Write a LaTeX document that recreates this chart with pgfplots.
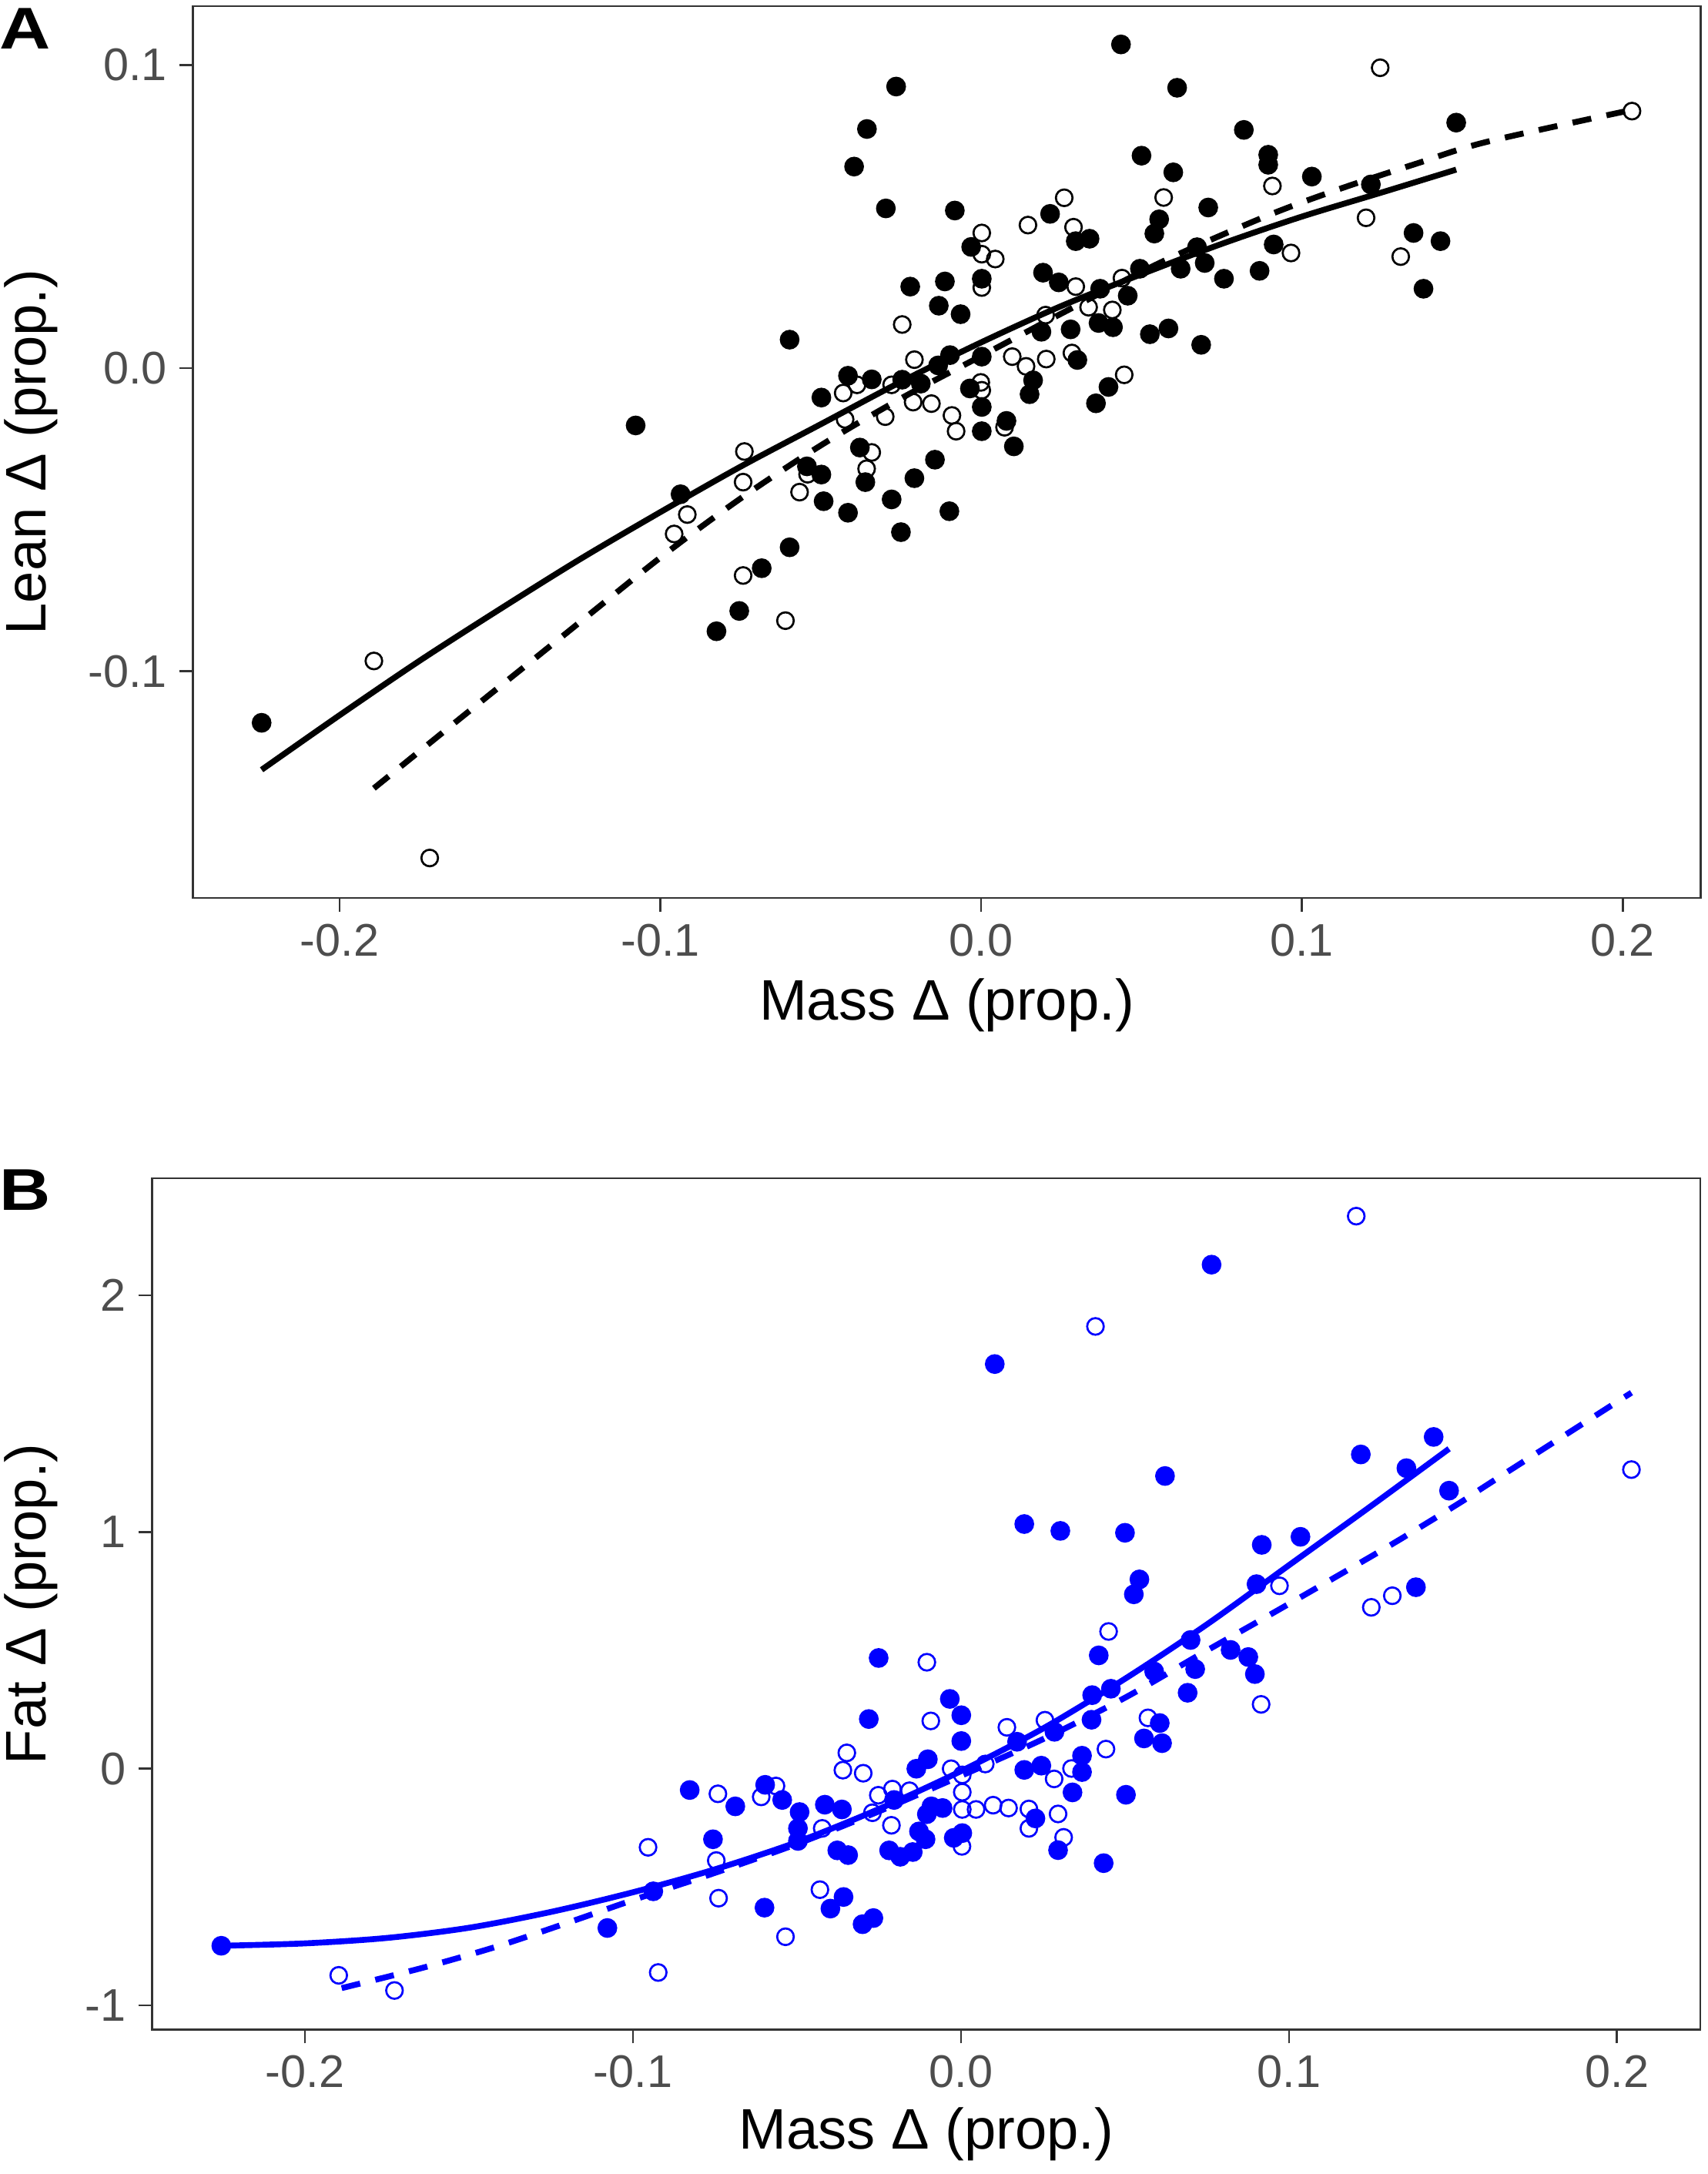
\documentclass[border=0pt]{standalone}
\usepackage{fontspec}
\setmainfont{Liberation Sans}
\usepackage{pgfplots}
\pgfplotsset{compat=1.18}
\definecolor{tickgray}{HTML}{4D4D4D}
\definecolor{framegray}{HTML}{333333}
\definecolor{myblue}{RGB}{0,0,255}

\pgfplotsset{
  ggstyle/.style={
    scale only axis,
    axis line style={framegray, line width=0.6pt},
    tick style={framegray, line width=0.6pt},
    tick align=outside,
    major tick length=4pt,
    tick pos=left,
    ticklabel style={font=\fontsize{13.2}{15}\selectfont, text=tickgray},
    /pgf/number format/assume math mode=true,
    label style={font=\fontsize{16.5}{19}\selectfont},
    clip=false,
  },
  filledpt/.style={only marks, mark=*, mark size=2.65pt, mark options={draw=none}},
  openpt/.style={only marks, mark=o, mark size=2.4pt, mark options={line width=0.6pt}},
}

\begin{document}
\begin{tikzpicture}
\useasboundingbox (0,0) rectangle (492.8pt,627.5pt);

% ---------------- Panel A ----------------
\begin{axis}[ggstyle,
  at={(55.7pt,368.3pt)}, anchor=south west,
  width=435.2pt, height=257.4pt,
  xmin=-0.2457, xmax=0.2243, ymin=-0.1748, ymax=0.1194,
  xtick={-0.2,-0.1,0,0.1,0.2}, xticklabels={-0.2,-0.1,0.0,0.1,0.2},
  ytick={-0.1,0,0.1}, yticklabels={-0.1,0.0,0.1},
  xlabel={Mass Δ (prop.)}, ylabel={Lean Δ (prop.)},
  xlabel style={at={(axis description cs:0.5,-0.12)}, anchor=center},
  ylabel style={at={(axis description cs:-0.1075,0.5)}, anchor=center, rotate=0},
]
\addplot[filledpt, black] coordinates {
(-0.2243,-0.1170) (-0.1077,-0.0189) (-0.0937,-0.0416) (-0.0825,-0.0868)
(-0.0754,-0.0801) (-0.0684,-0.0660) (-0.0597,-0.0591) (-0.0597,0.0094)
(-0.0543,-0.0324) (-0.0498,-0.0351) (-0.0491,-0.0439) (-0.0498,-0.0097)
(-0.0415,-0.0025) (-0.0415,-0.0477) (-0.0396,0.0665) (-0.0378,-0.0262)
(-0.0361,-0.0376) (-0.0356,0.0789) (-0.0341,-0.0037) (-0.0297,0.0527)
(-0.0279,-0.0433) (-0.0265,0.0929) (-0.0250,-0.0541) (-0.0246,-0.0038)
(-0.0221,0.0269) (-0.0208,-0.0363) (-0.0188,-0.0051) (-0.0144,-0.0302)
(-0.0134,0.0009) (-0.0132,0.0206) (-0.0113,0.0286) (-0.0099,-0.0472)
(-0.0097,0.0043) (-0.0082,0.0520) (-0.0064,0.0178) (-0.0035,-0.0067)
(-0.0031,0.0400) (0.0002,0.0295) (0.0002,0.0038) (0.0002,-0.0128)
(0.0002,-0.0208) (0.0079,-0.0174) (0.0102,-0.0258) (0.0151,-0.0086)
(0.0162,-0.0040) (0.0188,0.0120) (0.0193,0.0315) (0.0215,0.0509)
(0.0242,0.0283) (0.0279,0.0128) (0.0295,0.0419) (0.0300,0.0027)
(0.0338,0.0427) (0.0358,-0.0116) (0.0366,0.0149) (0.0371,0.0262)
(0.0397,-0.0062) (0.0411,0.0135) (0.0436,0.1068) (0.0457,0.0239)
(0.0495,0.0328) (0.0500,0.0701) (0.0526,0.0112) (0.0540,0.0444)
(0.0555,0.0491) (0.0584,0.0131) (0.0599,0.0646) (0.0611,0.0925)
(0.0622,0.0328) (0.0673,0.0399) (0.0686,0.0077) (0.0697,0.0347)
(0.0708,0.0530) (0.0757,0.0295) (0.0819,0.0786) (0.0868,0.0321)
(0.0895,0.0704) (0.0895,0.0671) (0.0912,0.0408) (0.1031,0.0632)
(0.1215,0.0606) (0.1348,0.0446) (0.1379,0.0262) (0.1432,0.0419)
(0.1481,0.0810)
};
\addplot[openpt, black] coordinates {
(-0.1893,-0.0966) (-0.1719,-0.1616) (-0.0957,-0.0547) (-0.0916,-0.0483)
(-0.0742,-0.0376) (-0.0738,-0.0275) (-0.0742,-0.0684) (-0.0610,-0.0833)
(-0.0566,-0.0409) (-0.0541,-0.0350) (-0.0430,-0.0082) (-0.0424,-0.0169)
(-0.0387,-0.0055) (-0.0357,-0.0332) (-0.0341,-0.0278) (-0.0299,-0.0160)
(-0.0279,-0.0055) (-0.0246,0.0144) (-0.0212,-0.0112) (-0.0208,0.0028)
(-0.0155,-0.0117) (-0.0091,-0.0156) (-0.0078,-0.0208) (0.0002,0.0446)
(0.0002,0.0376) (0.0002,0.0266) (-0.0001,-0.0047) (0.0002,-0.0073)
(0.0044,0.0360) (0.0073,-0.0195) (0.0097,0.0038) (0.0140,0.0006)
(0.0146,0.0472) (0.0201,0.0175) (0.0203,0.0030) (0.0259,0.0562)
(0.0283,0.0050) (0.0288,0.0465) (0.0295,0.0269) (0.0335,0.0201)
(0.0409,0.0192) (0.0439,0.0297) (0.0446,-0.0022) (0.0569,0.0563)
(0.0908,0.0601) (0.0966,0.0380) (0.1200,0.0496) (0.1244,0.0991)
(0.1308,0.0368) (0.2029,0.0848)
};
\addplot[black, line width=1.7pt, smooth, tension=0.5] coordinates {
(-0.2243,-0.1325) (-0.2000,-0.1145) (-0.1750,-0.0965) (-0.1500,-0.0795)
(-0.1250,-0.0630) (-0.1000,-0.0475) (-0.0750,-0.0325) (-0.0500,-0.0185)
(-0.0250,-0.0045) (0.0000,0.0085) (0.0250,0.0205) (0.0500,0.0310)
(0.0750,0.0410) (0.1000,0.0500) (0.1250,0.0580) (0.1481,0.0655)
};
\addplot[black, line width=1.7pt, dash pattern=on 5.5pt off 4.5pt, smooth, tension=0.5] coordinates {
(-0.1893,-0.1386) (-0.1600,-0.1135) (-0.1300,-0.0880) (-0.1000,-0.0625)
(-0.0750,-0.0430) (-0.0500,-0.0255) (-0.0250,-0.0100) (0.0000,0.0040)
(0.0250,0.0180) (0.0562,0.0350) (0.0890,0.0502) (0.1117,0.0591)
(0.1352,0.0673) (0.1574,0.0746) (0.2029,0.0852)
};
\end{axis}

% ---------------- Panel B ----------------
\begin{axis}[ggstyle,
  at={(43.9pt,41.7pt)}, anchor=south west,
  width=446.9pt, height=245.7pt,
  xmin=-0.2466, xmax=0.2254, ymin=-1.102, ymax=2.495,
  xtick={-0.2,-0.1,0,0.1,0.2}, xticklabels={-0.2,-0.1,0.0,0.1,0.2},
  ytick={-1,0,1,2}, yticklabels={-1,0,1,2},
  xlabel={Mass Δ (prop.)}, ylabel={Fat Δ (prop.)},
  xlabel style={at={(axis description cs:0.5,-0.123)}, anchor=center},
  ylabel style={at={(axis description cs:-0.0783,0.5)}, anchor=center, rotate=0},
]
\addplot[filledpt, myblue] coordinates {
(-0.2255,-0.748) (-0.1078,-0.673) (-0.0938,-0.518) (-0.0827,-0.090)
(-0.0756,-0.298) (-0.0688,-0.159) (-0.0599,-0.587) (-0.0597,-0.068)
(-0.0545,-0.132) (-0.0497,-0.252) (-0.0497,-0.305) (-0.0492,-0.183)
(-0.0415,-0.152) (-0.0398,-0.591) (-0.0377,-0.345) (-0.0363,-0.172)
(-0.0358,-0.542) (-0.0344,-0.365) (-0.0300,-0.657) (-0.0281,0.210)
(-0.0267,-0.631) (-0.0251,0.468) (-0.0219,-0.345) (-0.0204,-0.132)
(-0.0185,-0.372) (-0.0147,-0.352) (-0.0136,0.000) (-0.0128,-0.265)
(-0.0108,-0.298) (-0.0104,-0.192) (-0.0101,0.040) (-0.0090,-0.159)
(-0.0056,-0.166) (-0.0034,0.295) (-0.0022,-0.292) (0.0001,0.226)
(0.0001,0.117) (0.0004,-0.272) (0.0103,1.710) (0.0171,0.114)
(0.0193,1.034) (0.0193,-0.005) (0.0227,-0.210) (0.0245,0.013)
(0.0285,0.156) (0.0296,-0.344) (0.0303,1.005) (0.0340,-0.100)
(0.0369,0.055) (0.0369,-0.014) (0.0398,0.207) (0.0400,0.311)
(0.0420,0.479) (0.0435,-0.399) (0.0457,0.338) (0.0500,0.997)
(0.0503,-0.110) (0.0527,0.737) (0.0544,0.800) (0.0558,0.128)
(0.0589,0.411) (0.0606,0.193) (0.0613,0.108) (0.0622,1.237)
(0.0691,0.321) (0.0700,0.544) (0.0714,0.421) (0.0764,2.130)
(0.0822,0.502) (0.0876,0.472) (0.0896,0.400) (0.0901,0.780)
(0.0917,0.946) (0.1035,0.980) (0.1219,1.328) (0.1358,1.270)
(0.1387,0.767) (0.1441,1.402) (0.1488,1.175)
};
\addplot[openpt, myblue] coordinates {
(-0.1897,-0.873) (-0.1727,-0.937) (-0.0954,-0.332) (-0.0923,-0.861)
(-0.0746,-0.388) (-0.0741,-0.106) (-0.0739,-0.547) (-0.0609,-0.119)
(-0.0564,-0.073) (-0.0535,-0.710) (-0.0430,-0.511) (-0.0423,-0.252)
(-0.0360,-0.006) (-0.0348,0.067) (-0.0298,-0.019) (-0.0270,-0.186)
(-0.0252,-0.112) (-0.0212,-0.239) (-0.0209,-0.086) (-0.0157,-0.093)
(-0.0104,0.450) (-0.0092,0.202) (-0.0030,0.000) (0.0004,-0.026)
(0.0004,-0.099) (0.0004,-0.172) (0.0003,-0.328) (0.0046,-0.172)
(0.0074,0.020) (0.0098,-0.154) (0.0140,0.175) (0.0145,-0.166)
(0.0207,-0.170) (0.0207,-0.252) (0.0256,0.205) (0.0284,-0.043)
(0.0296,-0.191) (0.0313,-0.290) (0.0337,0.001) (0.0410,1.869)
(0.0442,0.083) (0.0450,0.580) (0.0570,0.215) (0.0915,0.272)
(0.0971,0.773) (0.1205,2.335) (0.1251,0.682) (0.1315,0.731)
(0.2044,1.264)
};
\addplot[myblue, line width=1.7pt, smooth, tension=0.5] coordinates {
(-0.2255,-0.748) (-0.2000,-0.738) (-0.1750,-0.715) (-0.1500,-0.672)
(-0.1250,-0.605) (-0.1000,-0.522) (-0.0750,-0.425) (-0.0500,-0.310)
(-0.0250,-0.170) (0.0000,-0.010) (0.0250,0.170) (0.0500,0.380)
(0.0750,0.610) (0.1000,0.860) (0.1250,1.110) (0.1488,1.352)
};
\addplot[myblue, line width=1.7pt, dash pattern=on 5.5pt off 4.5pt, smooth, tension=0.5] coordinates {
(-0.1888,-0.927) (-0.1638,-0.840) (-0.1412,-0.750) (-0.1187,-0.645)
(-0.1000,-0.555) (-0.0750,-0.440) (-0.0500,-0.318) (-0.0250,-0.180)
(0.0000,-0.030) (0.0250,0.125) (0.0500,0.300) (0.0725,0.480)
(0.0926,0.638) (0.1127,0.798) (0.1324,0.957) (0.1520,1.123)
(0.1616,1.210) (0.2044,1.589)
};
\end{axis}

\node[font=\bfseries\fontsize{17}{19}\selectfont, xscale=1.2, anchor=center] at (7.2pt,619.2pt) {A};
\node[font=\bfseries\fontsize{17}{19}\selectfont, xscale=1.2, anchor=center] at (7.2pt,284.0pt) {B};
\end{tikzpicture}
\end{document}
